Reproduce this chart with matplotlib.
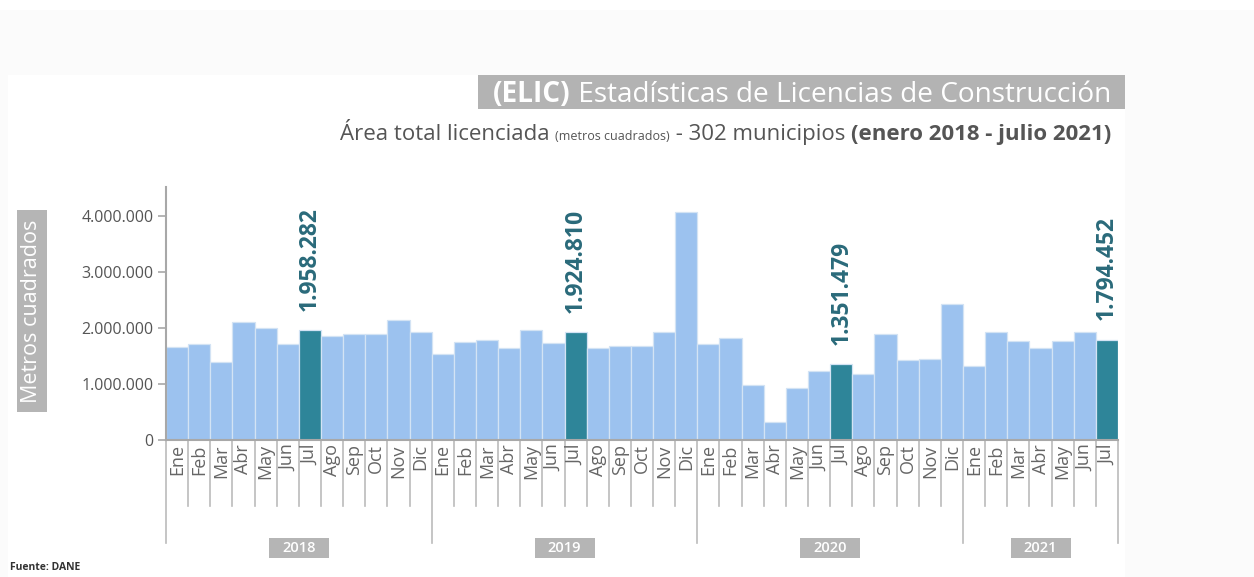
import matplotlib
matplotlib.use("Agg")
import matplotlib.pyplot as plt
from matplotlib.patches import Rectangle
from matplotlib.lines import Line2D
import matplotlib.transforms as mtransforms

plt.rcParams['font.family'] = ['Open Sans', 'DejaVu Sans']

# ---------------- data ----------------
months = ["Ene", "Feb", "Mar", "Abr", "May", "Jun", "Jul", "Ago", "Sep", "Oct", "Nov", "Dic"]
years = ["2018", "2019", "2020", "2021"]
months_per_year = [12, 12, 12, 7]
values = [
    # 2018
    1666000, 1714000, 1400000, 2100000, 2006000, 1714000, 1958282, 1857000, 1893000, 1887000, 2137000, 1920000,
    # 2019
    1536000, 1750000, 1780000, 1637000, 1958000, 1738000, 1924810, 1643000, 1679000, 1680000, 1920000, 4070000,
    # 2020
    1714000, 1815000, 988000, 315000, 920000, 1238000, 1351479, 1180000, 1893000, 1420000, 1450000, 2420000,
    # 2021
    1320000, 1920000, 1770000, 1640000, 1770000, 1920000, 1794452,
]
highlight_idx = [6, 18, 30, 42]
yticks = [0, 1000000, 2000000, 3000000, 4000000]
ytick_labels = ["0", "1.000.000", "2.000.000", "3.000.000", "4.000.000"]

title_bold = "(ELIC)"
title_rest = " Estadísticas de Licencias de Construcción"
sub_parts = [("Área total licenciada ", "normal", 16),
             ("(metros cuadrados)", "normal", 9),
             (" - 302 municipios ", "normal", 16),
             ("(enero 2018 - julio 2021)", "bold", 16)]
ylabel = "Metros cuadrados"
source = "Fuente: DANE"

# ---------------- figure ----------------
W, H = 1254, 577
fig = plt.figure(figsize=(W / 100, H / 100), dpi=100)
fig.patch.set_facecolor("white")

def fx(px):
    return px / W

def fy(py):
    return 1 - py / H

# faint backgrounds
fig.add_artist(Rectangle((0, 0), 1, fy(10), transform=fig.transFigure, fc="#fbfbfb", ec="none", zorder=0))
fig.add_artist(Rectangle((fx(8), 0), fx(1125) - fx(8), fy(75), transform=fig.transFigure,
                         fc="white", ec="none", zorder=0))

L, R, T, B = 166, 1118, 187, 440
ax = fig.add_axes([fx(L), fy(B), fx(R) - fx(L), fy(T) - fy(B)])
ax.set_facecolor("none")

n = len(values)
xs = list(range(n))
light = "#9cc2ef"
dark = "#2e8599"
colors = [dark if i in highlight_idx else light for i in xs]
ax.bar(xs, values, width=1.0, color=colors, edgecolor="#d3e3f4", linewidth=0.9, zorder=2)

ax.set_xlim(-0.5, n - 0.5)
ymax = 4000000 * (B - T) / 224.0
ax.set_ylim(0, ymax)

for s in ["top", "right"]:
    ax.spines[s].set_visible(False)
for s in ["left", "bottom"]:
    ax.spines[s].set_color("#a8a8a8")
    ax.spines[s].set_linewidth(1.5)
    ax.spines[s].set_zorder(3)

ax.set_yticks(yticks)
ax.set_yticklabels(ytick_labels)
ax.tick_params(axis="y", direction="out", length=6, width=1.2, color="#a8a8a8",
               labelsize=11.5, labelcolor="#555555", pad=3)
ax.set_xticks([])

# value labels
for i in highlight_idx:
    v = values[i]
    lab = f"{v:,}".replace(",", ".")
    ax.annotate(lab, xy=(i, v), xytext=(0, 14), textcoords="offset points",
                rotation=90, ha="center", va="bottom", fontsize=16.5, fontweight="bold",
                color="#2a6a7a")

# month labels & separators
trans = mtransforms.blended_transform_factory(ax.transData, ax.transAxes)
px_ax = 1.0 / (B - T)
month_labels = []
for y_i, cnt in enumerate(months_per_year):
    month_labels += months[:cnt]
for i, m in enumerate(month_labels):
    ax.annotate(m, xy=(i, 0), xycoords=trans, xytext=(0, -3), textcoords="offset points",
                rotation=90, ha="center", va="top", fontsize=13, color="#666666")

year_bounds = [0]
for c in months_per_year:
    year_bounds.append(year_bounds[-1] + c)
for b in range(n + 1):
    depth = (543 - B) if b in year_bounds else (506 - B)
    ax.add_line(Line2D([b - 0.5, b - 0.5], [0, -depth * px_ax], transform=trans,
                       color="#bbbbbb", lw=1.2, clip_on=False, zorder=1))

# year boxes
bw_px = 22.14
for k, yr in enumerate(years):
    c = (year_bounds[k] + year_bounds[k + 1] - 1) / 2.0
    w = 60 / bw_px
    ax.add_patch(Rectangle((c - w / 2, -(558 - B) * px_ax), w, 20 * px_ax, transform=trans,
                           fc="#b5b5b5", ec="none", clip_on=False))
    ax.text(c, -(548 - B) * px_ax, yr, transform=trans, ha="center", va="center",
            fontsize=10.5, fontweight="semibold", color="white")

# y label box
fig.add_artist(Rectangle((fx(17), fy(412)), fx(47) - fx(17), fy(210) - fy(412),
                         transform=fig.transFigure, fc="#b5b5b5", ec="none"))
fig.text(fx(32), fy(311), ylabel, rotation=90, ha="center", va="center",
         fontsize=15.5, color="white")

# title box
fig.add_artist(Rectangle((fx(478), fy(109)), fx(1125) - fx(478), fy(75) - fy(109),
                         transform=fig.transFigure, fc="#b3b3b3", ec="none"))
renderer = fig.canvas.get_renderer()

def runs_right(parts, x_right_px, y_base_px, color):
    x = fx(x_right_px)
    for txt, weight, size in reversed(parts):
        t = fig.text(x, fy(y_base_px), txt, ha="right", va="baseline",
                     fontsize=size, fontweight=weight, color=color)
        bb = t.get_window_extent(renderer=renderer)
        x = bb.x0 / fig.bbox.width

runs_right([(title_bold, "bold", 20.2), (title_rest, "normal", 20.2)], 1111, 102, "white")
runs_right(sub_parts, 1111, 140, "#555555")

fig.text(fx(10), fy(568), source, ha="left", va="center", fontsize=7.5,
         fontweight="bold", color="#333333")

fig.savefig("out.png", dpi=100, facecolor=fig.get_facecolor())
